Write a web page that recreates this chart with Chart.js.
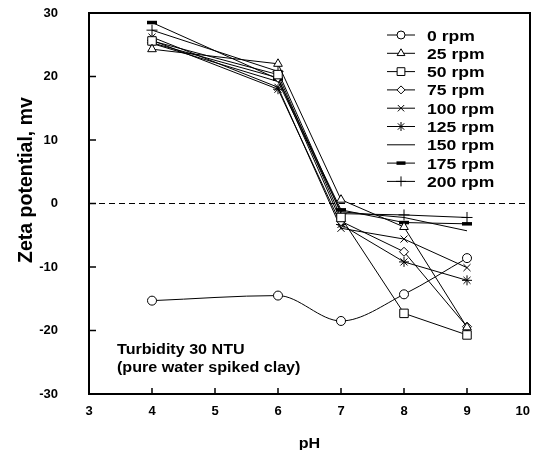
<!DOCTYPE html>
<html><head><meta charset="utf-8">
<script src="https://cdn.jsdelivr.net/npm/chart.js@4.4.1/dist/chart.umd.min.js"></script>
<style>html,body{margin:0;padding:0;background:#fff}#wrap{width:535px;height:450px;position:relative}</style>
</head><body><div id="wrap"><canvas id="c" width="535" height="450"></canvas></div>
<script>
// ---- data ----
const pH = [4, 6, 7, 8, 9];
const seriesNames = ['0 rpm','25 rpm','50 rpm','75 rpm','100 rpm','125 rpm','150 rpm','175 rpm','200 rpm'];
const rpm0   = [-15.3, -14.5, -18.5, -14.3, -8.6];
const rpm25  = [24.3, 22.0, 0.6, -3.7, -19.5];
const rpm50  = [25.6, 20.3, -2.2, -17.3, -20.7];
const rpm75  = [25.3, 19.8, -2.8, -7.6, -19.4];
const rpm100 = [26.2, 18.3, -3.9, -5.6, -10.1];
const rpm125 = [25.7, 18.0, -3.3, -9.2, -12.1];
const rpm150 = [25.2, 19.2, -1.3, -2.2, -4.3];
const rpm175 = [28.5, 19.6, -1.0, -3.0, -3.2];
const rpm200 = [27.3, 20.8, -1.6, -1.8, -2.2];
const xTicks = [3, 4, 5, 6, 7, 8, 9, 10];
const yTicks = [-30, -20, -10, 0, 10, 20, 30];

const FONT = "'Liberation Sans', Arial, Helvetica, sans-serif";
const allSeries = [rpm0, rpm25, rpm50, rpm75, rpm100, rpm125, rpm150, rpm175, rpm200];
const styles = [
  {pointStyle:'circle',   radius:4.5, bw:1},
  {pointStyle:'triangle', radius:5,   bw:1},
  {pointStyle:'rect',     radius:6,   bw:1},
  {pointStyle:'rectRot',  radius:4.5, bw:1},
  {pointStyle:'crossRot', radius:5,   bw:1},
  {pointStyle:'star',     radius:5,   bw:1},
  {pointStyle:false,      radius:0,   bw:1},
  {pointStyle:'line',     radius:5,   bw:3.5},
  {pointStyle:'cross',    radius:5.5, bw:1}
];

const datasets = allSeries.map((arr, i) => ({
  label: seriesNames[i],
  data: pH.map((x, j) => ({x: x, y: arr[j]})),
  borderColor: '#000',
  backgroundColor: '#fff',
  borderWidth: 1,
  pointStyle: styles[i].pointStyle || 'circle',
  pointRadius: styles[i].radius,
  pointHoverRadius: styles[i].radius,
  pointBorderWidth: styles[i].bw,
  pointBackgroundColor: i === 7 ? '#000' : '#fff',
  pointBorderColor: '#000',
  tension: i === 0 ? 0.4 : 0,
  cubicInterpolationMode: i === 0 ? 'monotone' : 'default',
  fill: false,
  clip: false
}));

function stretchText(ctx, text, x, y, sx) {
  ctx.save(); ctx.translate(x, y); ctx.scale(sx, 1); ctx.fillText(text, 0, 0); ctx.restore();
}

const framePlugin = {
  id: 'frame',
  beforeDatasetsDraw(chart) {
    const {ctx, chartArea: a, scales: {x, y}} = chart;
    ctx.save();
    const y0 = y.getPixelForValue(0);
    ctx.strokeStyle = '#000'; ctx.lineWidth = 1.2; ctx.setLineDash([6, 4]);
    ctx.beginPath(); ctx.moveTo(a.left, y0); ctx.lineTo(a.right, y0); ctx.stroke();
    ctx.setLineDash([]);
    ctx.lineWidth = 1.5;
    y.ticks.forEach(t => {
      const p = y.getPixelForValue(t.value);
      ctx.beginPath(); ctx.moveTo(a.left, p); ctx.lineTo(a.left + 7, p); ctx.stroke();
    });
    x.ticks.forEach(t => {
      const p = x.getPixelForValue(t.value);
      ctx.beginPath(); ctx.moveTo(p, a.bottom); ctx.lineTo(p, a.bottom - 6); ctx.stroke();
    });
    ctx.lineWidth = 2;
    ctx.strokeRect(a.left, a.top, a.right - a.left, a.bottom - a.top);
    ctx.restore();
  },
  afterDatasetsDraw(chart) {
    const {ctx, chartArea: a} = chart;
    ctx.save();
    ctx.fillStyle = '#000';
    const lx0 = 387, lx1 = 415, mx = 401, tx = 427;
    chart.data.datasets.forEach((ds, i) => {
      const cy = 35 + i * 18.3;
      ctx.strokeStyle = '#000'; ctx.lineWidth = 1;
      ctx.beginPath(); ctx.moveTo(lx0, cy); ctx.lineTo(lx1, cy); ctx.stroke();
      if (styles[i].pointStyle) {
        ctx.fillStyle = ds.pointBackgroundColor; ctx.strokeStyle = '#000';
        ctx.lineWidth = styles[i].bw;
        Chart.helpers.drawPoint(ctx, {pointStyle: styles[i].pointStyle, radius: styles[i].radius - 0.5, rotation: 0, borderWidth: styles[i].bw}, mx, cy);
      }
      ctx.fillStyle = '#000';
      ctx.font = 'bold 15px ' + FONT; ctx.textAlign = 'left'; ctx.textBaseline = 'alphabetic';
      stretchText(ctx, ds.label, tx, cy + 5.5, 1.17);
    });
    ctx.font = 'bold 14px ' + FONT; ctx.textAlign = 'left'; ctx.textBaseline = 'alphabetic';
    stretchText(ctx, 'Turbidity 30 NTU', 117, 354, 1.15);
    stretchText(ctx, '(pure water spiked clay)', 117, 372, 1.15);
    ctx.textAlign = 'center';
    ctx.font = 'bold 14px ' + FONT;
    stretchText(ctx, 'pH', (a.left + a.right) / 2, 448, 1.15);
    ctx.save();
    ctx.translate(27, 180); ctx.rotate(-Math.PI / 2);
    ctx.font = 'bold 19.5px ' + FONT; ctx.textAlign = 'center'; ctx.textBaseline = 'middle';
    ctx.fillText('Zeta potential, mv', 0, 0);
    ctx.restore();
    ctx.restore();
  }
};

new Chart(document.getElementById('c'), {
  type: 'line',
  data: {datasets: datasets},
  options: {
    responsive: false,
    devicePixelRatio: 1,
    animation: false,
    events: [],
    layout: {autoPadding: false, padding: {left: 0, right: 5, top: 13, bottom: 0}},
    plugins: {legend: {display: false}, tooltip: {enabled: false}},
    scales: {
      x: {
        type: 'linear', min: 3, max: 10,
        afterFit(s) { s.height = 56; s.paddingLeft = 0; s.paddingRight = 0; s.paddingTop = 0; s.paddingBottom = 0; },
        afterBuildTicks(s) { s.ticks = xTicks.map(v => ({value: v})); },
        grid: {display: false, drawTicks: false},
        border: {display: false},
        ticks: {color: '#000', padding: 10, font: {family: FONT, size: 13, weight: 'bold'},
          callback: v => (v === 10 ? '10    ' : String(v))}
      },
      y: {
        type: 'linear', min: -30, max: 30,
        afterFit(s) { s.width = 89; s.paddingLeft = 0; s.paddingRight = 0; s.paddingTop = 0; s.paddingBottom = 0; },
        afterBuildTicks(s) { s.ticks = yTicks.map(v => ({value: v})); },
        grid: {display: false, drawTicks: false},
        border: {display: false},
        ticks: {color: '#000', padding: 31, font: {family: FONT, size: 13, weight: 'bold'}}
      }
    }
  },
  plugins: [framePlugin]
});
</script>
</body></html>
